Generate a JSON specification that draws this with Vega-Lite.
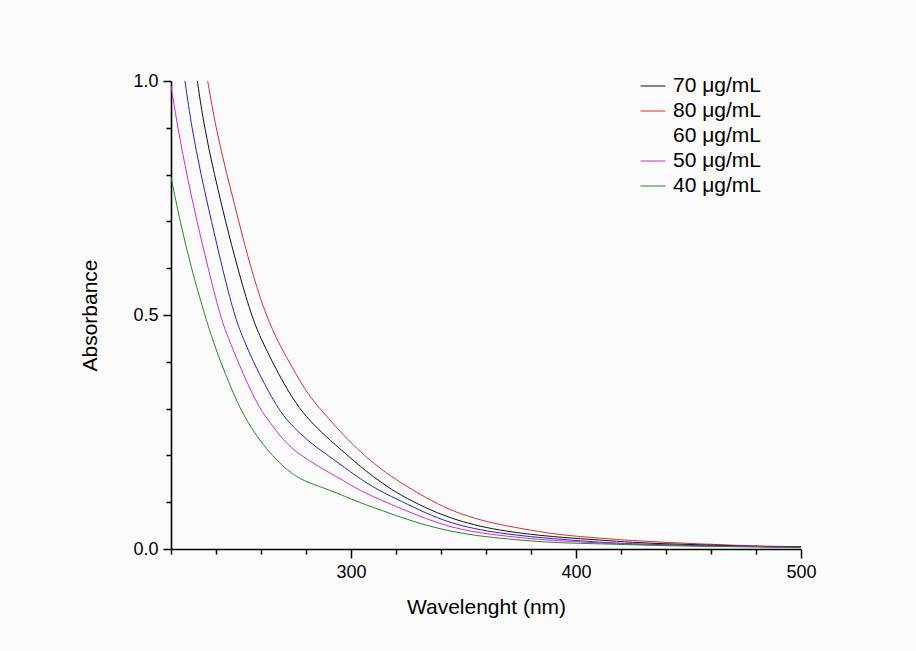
{
  "$schema": "https://vega.github.io/schema/vega-lite/v6.json",
  "width": 630,
  "height": 468,
  "autosize": "none",
  "padding": {"left": 171, "top": 81, "right": 115, "bottom": 102},
  "background": "#fbfbfb",
  "config": {
    "view": {"stroke": null},
    "font": "Liberation Sans"
  },
  "datasets": {
    "spectra": [
      {"series": "80 μg/mL", "nm": 236.3, "A": 1.0},
      {"series": "80 μg/mL", "nm": 239.9, "A": 0.9},
      {"series": "80 μg/mL", "nm": 244.8, "A": 0.8},
      {"series": "80 μg/mL", "nm": 250.1, "A": 0.7},
      {"series": "80 μg/mL", "nm": 255.5, "A": 0.6},
      {"series": "80 μg/mL", "nm": 261, "A": 0.515},
      {"series": "80 μg/mL", "nm": 266.5, "A": 0.452},
      {"series": "80 μg/mL", "nm": 272.1, "A": 0.403},
      {"series": "80 μg/mL", "nm": 277, "A": 0.362},
      {"series": "80 μg/mL", "nm": 281, "A": 0.33},
      {"series": "80 μg/mL", "nm": 287, "A": 0.295},
      {"series": "80 μg/mL", "nm": 293, "A": 0.263},
      {"series": "80 μg/mL", "nm": 299.6, "A": 0.228},
      {"series": "80 μg/mL", "nm": 306.2, "A": 0.199},
      {"series": "80 μg/mL", "nm": 314, "A": 0.168},
      {"series": "80 μg/mL", "nm": 322, "A": 0.142},
      {"series": "80 μg/mL", "nm": 333, "A": 0.11},
      {"series": "80 μg/mL", "nm": 344, "A": 0.083},
      {"series": "80 μg/mL", "nm": 355, "A": 0.065},
      {"series": "80 μg/mL", "nm": 366, "A": 0.052},
      {"series": "80 μg/mL", "nm": 380, "A": 0.04},
      {"series": "80 μg/mL", "nm": 393, "A": 0.03},
      {"series": "80 μg/mL", "nm": 411, "A": 0.023},
      {"series": "80 μg/mL", "nm": 425, "A": 0.018},
      {"series": "80 μg/mL", "nm": 440, "A": 0.014},
      {"series": "80 μg/mL", "nm": 455, "A": 0.011},
      {"series": "80 μg/mL", "nm": 470, "A": 0.008},
      {"series": "80 μg/mL", "nm": 485, "A": 0.006},
      {"series": "80 μg/mL", "nm": 500, "A": 0.005},

      {"series": "70 μg/mL", "nm": 231.7, "A": 1.0},
      {"series": "70 μg/mL", "nm": 234.8, "A": 0.9},
      {"series": "70 μg/mL", "nm": 239.3, "A": 0.8},
      {"series": "70 μg/mL", "nm": 244.2, "A": 0.7},
      {"series": "70 μg/mL", "nm": 249.6, "A": 0.6},
      {"series": "70 μg/mL", "nm": 255.6, "A": 0.5},
      {"series": "70 μg/mL", "nm": 259.9, "A": 0.45},
      {"series": "70 μg/mL", "nm": 265, "A": 0.4},
      {"series": "70 μg/mL", "nm": 270.5, "A": 0.35},
      {"series": "70 μg/mL", "nm": 277, "A": 0.3},
      {"series": "70 μg/mL", "nm": 283.5, "A": 0.265},
      {"series": "70 μg/mL", "nm": 290.5, "A": 0.233},
      {"series": "70 μg/mL", "nm": 300, "A": 0.194},
      {"series": "70 μg/mL", "nm": 306.2, "A": 0.168},
      {"series": "70 μg/mL", "nm": 314, "A": 0.14},
      {"series": "70 μg/mL", "nm": 322, "A": 0.115},
      {"series": "70 μg/mL", "nm": 333, "A": 0.088},
      {"series": "70 μg/mL", "nm": 344, "A": 0.066},
      {"series": "70 μg/mL", "nm": 355, "A": 0.051},
      {"series": "70 μg/mL", "nm": 366, "A": 0.04},
      {"series": "70 μg/mL", "nm": 380, "A": 0.031},
      {"series": "70 μg/mL", "nm": 393, "A": 0.025},
      {"series": "70 μg/mL", "nm": 411, "A": 0.019},
      {"series": "70 μg/mL", "nm": 425, "A": 0.014},
      {"series": "70 μg/mL", "nm": 440, "A": 0.011},
      {"series": "70 μg/mL", "nm": 455, "A": 0.009},
      {"series": "70 μg/mL", "nm": 470, "A": 0.007},
      {"series": "70 μg/mL", "nm": 485, "A": 0.005},
      {"series": "70 μg/mL", "nm": 500, "A": 0.004},

      {"series": "60 μg/mL", "nm": 226.2, "A": 1.0},
      {"series": "60 μg/mL", "nm": 229.2, "A": 0.9},
      {"series": "60 μg/mL", "nm": 233.3, "A": 0.8},
      {"series": "60 μg/mL", "nm": 238, "A": 0.7},
      {"series": "60 μg/mL", "nm": 242.8, "A": 0.6},
      {"series": "60 μg/mL", "nm": 248.1, "A": 0.5},
      {"series": "60 μg/mL", "nm": 252, "A": 0.45},
      {"series": "60 μg/mL", "nm": 256.6, "A": 0.4},
      {"series": "60 μg/mL", "nm": 261.8, "A": 0.35},
      {"series": "60 μg/mL", "nm": 267.6, "A": 0.3},
      {"series": "60 μg/mL", "nm": 272.5, "A": 0.27},
      {"series": "60 μg/mL", "nm": 277.5, "A": 0.246},
      {"series": "60 μg/mL", "nm": 283, "A": 0.223},
      {"series": "60 μg/mL", "nm": 289.2, "A": 0.202},
      {"series": "60 μg/mL", "nm": 300, "A": 0.164},
      {"series": "60 μg/mL", "nm": 306.2, "A": 0.143},
      {"series": "60 μg/mL", "nm": 314, "A": 0.121},
      {"series": "60 μg/mL", "nm": 322, "A": 0.103},
      {"series": "60 μg/mL", "nm": 333, "A": 0.077},
      {"series": "60 μg/mL", "nm": 344, "A": 0.056},
      {"series": "60 μg/mL", "nm": 355, "A": 0.043},
      {"series": "60 μg/mL", "nm": 366, "A": 0.034},
      {"series": "60 μg/mL", "nm": 380, "A": 0.026},
      {"series": "60 μg/mL", "nm": 393, "A": 0.021},
      {"series": "60 μg/mL", "nm": 411, "A": 0.014},
      {"series": "60 μg/mL", "nm": 425, "A": 0.011},
      {"series": "60 μg/mL", "nm": 440, "A": 0.009},
      {"series": "60 μg/mL", "nm": 455, "A": 0.007},
      {"series": "60 μg/mL", "nm": 470, "A": 0.006},
      {"series": "60 μg/mL", "nm": 485, "A": 0.005},
      {"series": "60 μg/mL", "nm": 500, "A": 0.004},

      {"series": "50 μg/mL", "nm": 220, "A": 0.99},
      {"series": "50 μg/mL", "nm": 223, "A": 0.9},
      {"series": "50 μg/mL", "nm": 227, "A": 0.8},
      {"series": "50 μg/mL", "nm": 231.5, "A": 0.7},
      {"series": "50 μg/mL", "nm": 236.5, "A": 0.6},
      {"series": "50 μg/mL", "nm": 241.7, "A": 0.5},
      {"series": "50 μg/mL", "nm": 245.5, "A": 0.45},
      {"series": "50 μg/mL", "nm": 249.8, "A": 0.4},
      {"series": "50 μg/mL", "nm": 254.3, "A": 0.35},
      {"series": "50 μg/mL", "nm": 259.4, "A": 0.3},
      {"series": "50 μg/mL", "nm": 264.4, "A": 0.268},
      {"series": "50 μg/mL", "nm": 269, "A": 0.238},
      {"series": "50 μg/mL", "nm": 273.5, "A": 0.216},
      {"series": "50 μg/mL", "nm": 278.1, "A": 0.199},
      {"series": "50 μg/mL", "nm": 287, "A": 0.172},
      {"series": "50 μg/mL", "nm": 296, "A": 0.148},
      {"series": "50 μg/mL", "nm": 300, "A": 0.136},
      {"series": "50 μg/mL", "nm": 306.2, "A": 0.12},
      {"series": "50 μg/mL", "nm": 314, "A": 0.103},
      {"series": "50 μg/mL", "nm": 322, "A": 0.087},
      {"series": "50 μg/mL", "nm": 333, "A": 0.065},
      {"series": "50 μg/mL", "nm": 344, "A": 0.047},
      {"series": "50 μg/mL", "nm": 355, "A": 0.036},
      {"series": "50 μg/mL", "nm": 366, "A": 0.029},
      {"series": "50 μg/mL", "nm": 380, "A": 0.022},
      {"series": "50 μg/mL", "nm": 393, "A": 0.017},
      {"series": "50 μg/mL", "nm": 411, "A": 0.013},
      {"series": "50 μg/mL", "nm": 425, "A": 0.01},
      {"series": "50 μg/mL", "nm": 440, "A": 0.008},
      {"series": "50 μg/mL", "nm": 455, "A": 0.006},
      {"series": "50 μg/mL", "nm": 470, "A": 0.005},
      {"series": "50 μg/mL", "nm": 478, "A": 0.008},
      {"series": "50 μg/mL", "nm": 482, "A": 0.004},
      {"series": "50 μg/mL", "nm": 490, "A": 0.004},
      {"series": "50 μg/mL", "nm": 500, "A": 0.003},

      {"series": "40 μg/mL", "nm": 220, "A": 0.795},
      {"series": "40 μg/mL", "nm": 224, "A": 0.7},
      {"series": "40 μg/mL", "nm": 229, "A": 0.6},
      {"series": "40 μg/mL", "nm": 235, "A": 0.5},
      {"series": "40 μg/mL", "nm": 238.3, "A": 0.45},
      {"series": "40 μg/mL", "nm": 242, "A": 0.4},
      {"series": "40 μg/mL", "nm": 246.2, "A": 0.35},
      {"series": "40 μg/mL", "nm": 250.7, "A": 0.3},
      {"series": "40 μg/mL", "nm": 255.5, "A": 0.26},
      {"series": "40 μg/mL", "nm": 261, "A": 0.222},
      {"series": "40 μg/mL", "nm": 266.5, "A": 0.192},
      {"series": "40 μg/mL", "nm": 272, "A": 0.167},
      {"series": "40 μg/mL", "nm": 277, "A": 0.151},
      {"series": "40 μg/mL", "nm": 282, "A": 0.14},
      {"series": "40 μg/mL", "nm": 287, "A": 0.132},
      {"series": "40 μg/mL", "nm": 294, "A": 0.119},
      {"series": "40 μg/mL", "nm": 300, "A": 0.107},
      {"series": "40 μg/mL", "nm": 306.2, "A": 0.095},
      {"series": "40 μg/mL", "nm": 314, "A": 0.082},
      {"series": "40 μg/mL", "nm": 322, "A": 0.068},
      {"series": "40 μg/mL", "nm": 333, "A": 0.051},
      {"series": "40 μg/mL", "nm": 344, "A": 0.038},
      {"series": "40 μg/mL", "nm": 355, "A": 0.029},
      {"series": "40 μg/mL", "nm": 366, "A": 0.023},
      {"series": "40 μg/mL", "nm": 380, "A": 0.017},
      {"series": "40 μg/mL", "nm": 393, "A": 0.013},
      {"series": "40 μg/mL", "nm": 411, "A": 0.011},
      {"series": "40 μg/mL", "nm": 425, "A": 0.009},
      {"series": "40 μg/mL", "nm": 440, "A": 0.007},
      {"series": "40 μg/mL", "nm": 455, "A": 0.006},
      {"series": "40 μg/mL", "nm": 470, "A": 0.005},
      {"series": "40 μg/mL", "nm": 485, "A": 0.004},
      {"series": "40 μg/mL", "nm": 500, "A": 0.003}
    ]
  },
  "data": {"name": "spectra"},
  "mark": {"type": "line", "strokeWidth": 1, "interpolate": "basis", "clip": true},
  "encoding": {
    "x": {
      "field": "nm",
      "type": "quantitative",
      "scale": {"domain": [220, 500], "nice": false, "zero": false},
      "axis": {
        "title": "Wavelenght (nm)",
        "values": [220, 240, 260, 280, 300, 320, 340, 360, 380, 400, 420, 440, 460, 480, 500],
        "labelExpr": "datum.value % 100 === 0 ? datum.label : ''",
        "grid": false,
        "domainColor": "#000000",
        "domainWidth": 1.6,
        "tickColor": "#000000",
        "tickWidth": 1.5,
        "tickSize": {"condition": {"test": "datum.value % 100 === 0", "value": 9}, "value": 5},
        "labelFontSize": 18,
        "labelColor": "#000000",
        "labelPadding": 5,
        "labelFlush": false,
        "labelOverlap": false,
        "titleFontSize": 21,
        "titleFontWeight": "normal",
        "titleColor": "#000000",
        "titleX": 315,
        "titleY": 58,
        "titleBaseline": "middle",
        "titleAlign": "center"
      }
    },
    "y": {
      "field": "A",
      "type": "quantitative",
      "scale": {"domain": [0, 1], "nice": false},
      "axis": {
        "title": "Absorbance",
        "values": [0, 0.1, 0.2, 0.3, 0.4, 0.5, 0.6, 0.7, 0.8, 0.9, 1],
        "labelExpr": "datum.value === 0 || datum.value === 0.5 || datum.value === 1 ? format(datum.value, '.1f') : ''",
        "grid": false,
        "domainColor": "#000000",
        "domainWidth": 1.6,
        "tickColor": "#000000",
        "tickWidth": 1.5,
        "tickSize": {"condition": {"test": "datum.value === 0 || datum.value === 0.5 || datum.value === 1", "value": 8}, "value": 5},
        "labelFontSize": 18,
        "labelColor": "#000000",
        "labelPadding": 5,
        "labelFlush": false,
        "labelOverlap": false,
        "titleFontSize": 21,
        "titleFontWeight": "normal",
        "titleColor": "#000000",
        "titleAngle": 270,
        "titleX": -81,
        "titleY": 234,
        "titleBaseline": "middle",
        "titleAlign": "center"
      }
    },
    "color": {
      "field": "series",
      "type": "nominal",
      "scale": {
        "domain": ["70 μg/mL", "80 μg/mL", "60 μg/mL", "50 μg/mL", "40 μg/mL"],
        "range": ["#111111", "#d9302b", "#2323c8", "#dd22dd", "#218a21"]
      },
      "legend": {
        "title": null,
        "orient": "none",
        "legendX": 469,
        "legendY": -8,
        "padding": 0,
        "symbolType": "stroke",
        "symbolSize": 625,
        "symbolStrokeWidth": 1,
        "symbolOpacity": {"expr": "datum.value === '60 μg/mL' ? 0 : 1"},
        "labelFontSize": 21,
        "labelColor": "#000000",
        "labelOffset": 7,
        "rowPadding": 2,
        "labelLimit": 300
      }
    }
  }
}
